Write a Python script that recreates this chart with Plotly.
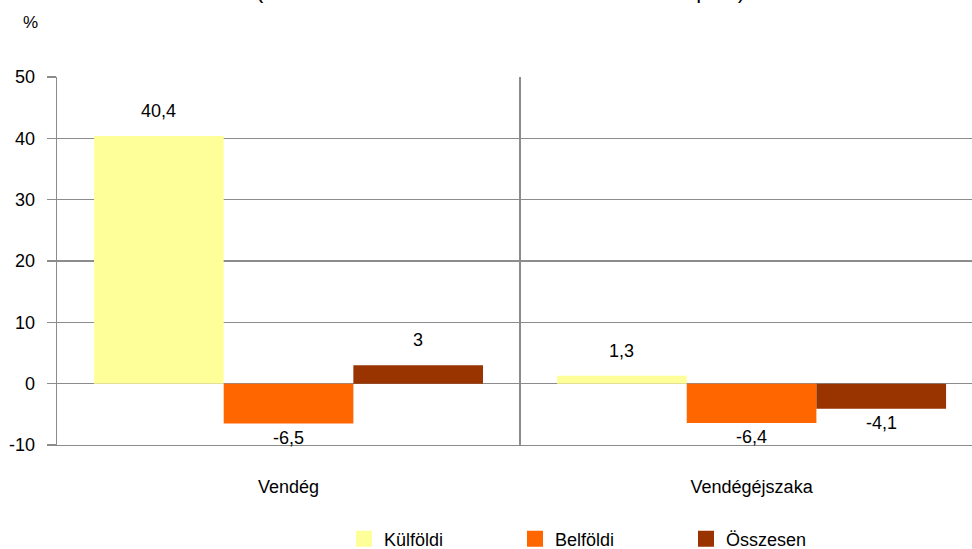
import plotly.graph_objects as go

categories = ["Vendég", "Vendégéjszaka"]
series_names = ["Külföldi", "Belföldi", "Összesen"]
kulfoldi = [40.4, 1.3]
belfoldi = [-6.5, -6.4]
osszesen = [3.0, -4.1]
series_values = [kulfoldi, belfoldi, osszesen]
colors = ["#FFFF99", "#FF6600", "#993300"]
y_ticks = [-10, 0, 10, 20, 30, 40, 50]
y_tick_labels = ["-10", "0", "10", "20", "30", "40", "50"]

FONT = "Arial, Liberation Sans, sans-serif"
W, H = 972, 549
ML, MR, MT, MB = 57, 0, 77, 104
BARGAP = 0.16
XMAX = 1.476
XMIN = -0.5
GRID = "#8c8c8c"

fig = go.Figure()
for name, vals, col in zip(series_names, series_values, colors):
    fig.add_trace(go.Bar(x=categories, y=vals, name=name, marker=dict(color=col, line=dict(width=0)),
                         showlegend=False, hoverinfo="skip"))
for name, col in zip(series_names, colors):
    fig.add_trace(go.Scatter(x=[None], y=[None], mode="markers", name=name,
                             marker=dict(symbol="square", size=16, color=col, line=dict(width=0))))

plot_w = W - ML - MR
px_per_cat = plot_w / (XMAX - XMIN)
bar_w = px_per_cat * (1 - BARGAP) / 3
for i, vals in enumerate(series_values):
    for cat, v in zip(categories, vals):
        txt = f"{v:g}".replace(".", ",")
        fig.add_annotation(x=cat, y=v, xref="x", yref="y", text=txt, showarrow=False,
                           xshift=(i - 1) * bar_w,
                           yanchor="bottom" if v >= 0 else "top",
                           yshift=13 if v >= 0 else -2,
                           font=dict(family=FONT, size=18, color="#000000"))

fig.add_annotation(x=0, y=1, xref="paper", yref="paper", xshift=-27, yshift=55, text="%",
                   xanchor="center", yanchor="middle",
                   showarrow=False, font=dict(family=FONT, size=17, color="#000000"))
fig.add_annotation(x=(500 - ML) / plot_w, y=1, xref="paper", yref="paper", yshift=87, yanchor="middle",
                   text="(változás az előző év azonos időszakához képest)", showarrow=False,
                   font=dict(family=FONT, size=22, color="#000000"))

fig.update_layout(
    width=W, height=H,
    margin=dict(l=ML, r=MR, t=MT, b=MB, pad=0, autoexpand=False),
    paper_bgcolor="white", plot_bgcolor="white",
    barmode="group", bargap=BARGAP, bargroupgap=0,
    separators=",.",
    font=dict(family=FONT, size=18, color="#000000"),
    legend=dict(orientation="h", xref="container", yref="container",
                x=344 / W, xanchor="left", y=(H - 539) / H, yanchor="middle",
                entrywidth=126, entrywidthmode="pixels", font=dict(family=FONT, size=18),
                itemclick=False, bgcolor="rgba(0,0,0,0)"),
    xaxis=dict(range=[XMIN, XMAX], type="category", showgrid=True, tickson="boundaries",
               gridcolor=GRID, gridwidth=1.3, ticks="", showline=True, linecolor=GRID, linewidth=1.3,
               zeroline=False, automargin=False,
               ticklabelstandoff=25, tickfont=dict(family=FONT, size=18)),
    yaxis=dict(range=[-10, 50], tickvals=y_ticks, ticktext=y_tick_labels,
               showgrid=True, gridcolor=GRID, gridwidth=1.3,
               zeroline=False, showline=True, linecolor=GRID, linewidth=1.3,
               automargin=False,
               ticks="outside", ticklen=9, tickcolor=GRID, tickwidth=1.3,
               ticklabelstandoff=8, tickfont=dict(family=FONT, size=18)),
)

fig.write_html("out.html", config={"displayModeBar": False, "staticPlot": True},
               post_script="document.body.style.margin='0';document.body.style.overflow='hidden';")
